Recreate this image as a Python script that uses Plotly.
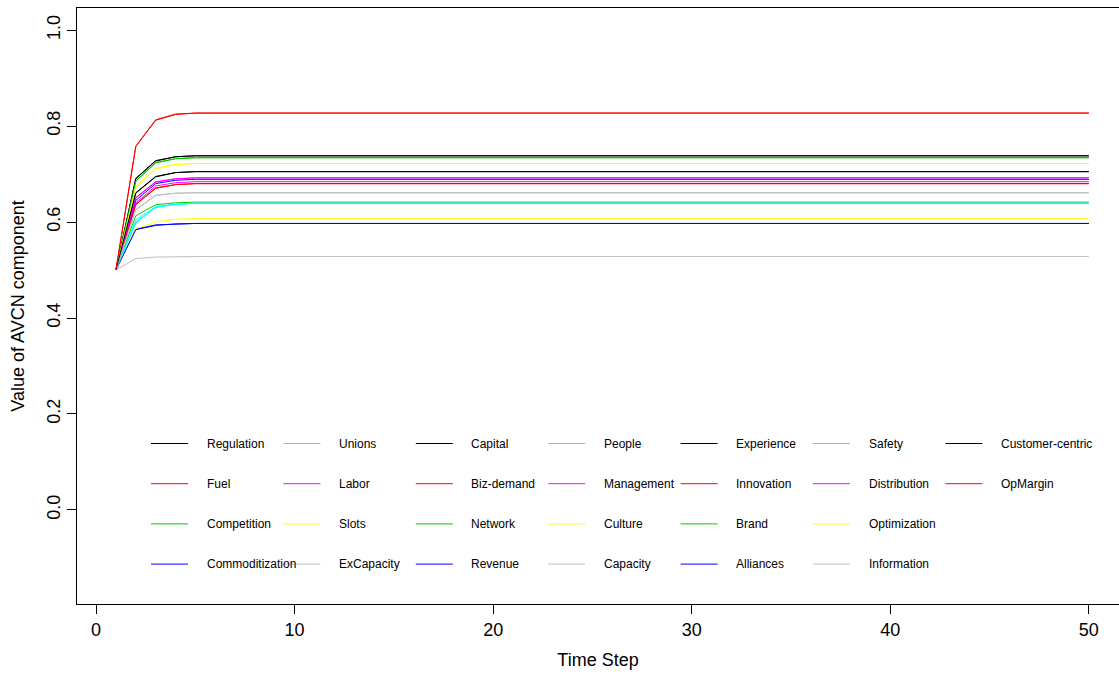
import plotly.graph_objects as go

# ---------------- data ----------------
time_steps = list(range(1, 51))

names = ["Regulation", "Fuel", "Competition", "Commoditization", "Unions", "Labor",
         "Slots", "ExCapacity", "Capital", "Biz-demand", "Network", "Revenue",
         "People", "Management", "Culture", "Capacity", "Experience", "Innovation",
         "Brand", "Alliances", "Safety", "Distribution", "Optimization", "Information",
         "Customer-centric", "OpMargin"]

# R default palette, cycled over the series
palette = ["#000000", "#FF0000", "#00CD00", "#0000FF", "#00FFFF", "#FF00FF", "#FFFF00", "#BEBEBE"]

# values at time steps 1..4 (transient part)
early_values = [
    [0.500, 0.660, 0.694, 0.703],  # Regulation
    [0.500, 0.636, 0.670, 0.678],  # Fuel
    [0.500, 0.613, 0.636, 0.640],  # Competition
    [0.500, 0.585, 0.594, 0.596],  # Commoditization
    [0.500, 0.600, 0.630, 0.637],  # Unions
    [0.500, 0.650, 0.683, 0.690],  # Labor
    [0.500, 0.586, 0.600, 0.606],  # Slots
    [0.500, 0.524, 0.527, 0.528],  # ExCapacity
    [0.500, 0.690, 0.727, 0.736],  # Capital
    [0.500, 0.757, 0.812, 0.824],  # Biz-demand
    [0.500, 0.686, 0.724, 0.732],  # Network
    [0.500, 0.645, 0.680, 0.687],  # Revenue
    [0.500, 0.604, 0.632, 0.637],  # People
    [0.500, 0.640, 0.675, 0.682],  # Management
    [0.500, 0.674, 0.712, 0.720],  # Culture
    [0.500, 0.625, 0.655, 0.660],  # Capacity
    [0.500, 0.691, 0.728, 0.736],  # Experience
    [0.500, 0.637, 0.671, 0.678],  # Innovation
    [0.500, 0.685, 0.723, 0.732],  # Brand
    [0.500, 0.584, 0.593, 0.596],  # Alliances
    [0.500, 0.598, 0.631, 0.637],  # Safety
    [0.500, 0.651, 0.684, 0.690],  # Distribution
    [0.500, 0.673, 0.711, 0.720],  # Optimization
    [0.500, 0.626, 0.656, 0.660],  # Information
    [0.500, 0.661, 0.695, 0.703],  # Customer-centric
    [0.500, 0.758, 0.813, 0.825],  # OpMargin
]

# flat level reached from time step 5 onwards
steady_values = [0.705, 0.680, 0.6415, 0.597, 0.639, 0.692, 0.607, 0.528,
                 0.738, 0.827, 0.734, 0.689, 0.639, 0.684, 0.722, 0.661,
                 0.738, 0.680, 0.734, 0.597, 0.639, 0.692, 0.722, 0.661,
                 0.705, 0.827]

x_ticks = [0, 10, 20, 30, 40, 50]
y_ticks = [0.0, 0.2, 0.4, 0.6, 0.8, 1.0]
y_tick_labels = ["0.0", "0.2", "0.4", "0.6", "0.8", "1.0"]

# ---------------- figure ----------------
W, H = 1119, 675
ML, MR, MT, MB = 77, 0, 8, 71
PW, PH = W - ML - MR, H - MT - MB
FONT = "Liberation Sans, Arial, sans-serif"

fig = go.Figure()
for i, name in enumerate(names):
    ys = early_values[i] + [steady_values[i]] * (len(time_steps) - len(early_values[i]))
    fig.add_trace(go.Scatter(x=time_steps, y=ys, mode="lines", name=name,
                             line=dict(color=palette[i % 8], width=1),
                             showlegend=False, hoverinfo="x+y+name"))

# manual legend: 4 rows, column-major, like R's legend(ncol=7)
def px_x(p):
    return (p - ML) / PW

def px_y(p):
    return (MT + PH - p) / PH

n_rows = 4
col_x0 = 151.0
col_step = 132.4
row_y0 = 443.5
row_step = 40.2
shapes = []
annotations = []
for i, name in enumerate(names):
    col, row = divmod(i, n_rows)
    lx = col_x0 + col * col_step
    ly = row_y0 + row * row_step
    shapes.append(dict(type="line", xref="paper", yref="paper",
                       x0=px_x(lx), x1=px_x(lx + 37), y0=px_y(ly), y1=px_y(ly),
                       line=dict(color=palette[i % 8], width=1)))
    annotations.append(dict(xref="paper", yref="paper", x=px_x(lx + 53.5), y=px_y(ly),
                            text=name, showarrow=False, xanchor="left", yanchor="middle",
                            font=dict(family=FONT, size=12, color="#000000")))

fig.update_layout(
    width=W, height=H,
    margin=dict(l=ML, r=MR, t=MT, b=MB, pad=0),
    paper_bgcolor="white", plot_bgcolor="white",
    font=dict(family=FONT, size=18, color="#000000"),
    shapes=shapes, annotations=annotations,
    showlegend=False,
)
fig.update_xaxes(range=[-0.96, 51.52], tickvals=x_ticks, ticks="outside", ticklen=9,
                 tickwidth=1, tickcolor="#000000", showgrid=False, zeroline=False,
                 showline=True, linecolor="#000000", linewidth=1, mirror=True,
                 tickfont=dict(size=18), title=dict(text="Time Step", font=dict(size=18), standoff=14))
fig.update_yaxes(range=[-0.196, 1.046], tickvals=y_ticks, ticktext=y_tick_labels,
                 ticks="outside", ticklen=9, tickwidth=1, tickcolor="#000000",
                 showgrid=False, zeroline=False, showline=True, linecolor="#000000",
                 linewidth=1, mirror=False, tickangle=-90, tickfont=dict(size=18),
                 title=dict(text="Value of AVCN component", font=dict(size=18), standoff=14))

fig.write_html("out.html")
